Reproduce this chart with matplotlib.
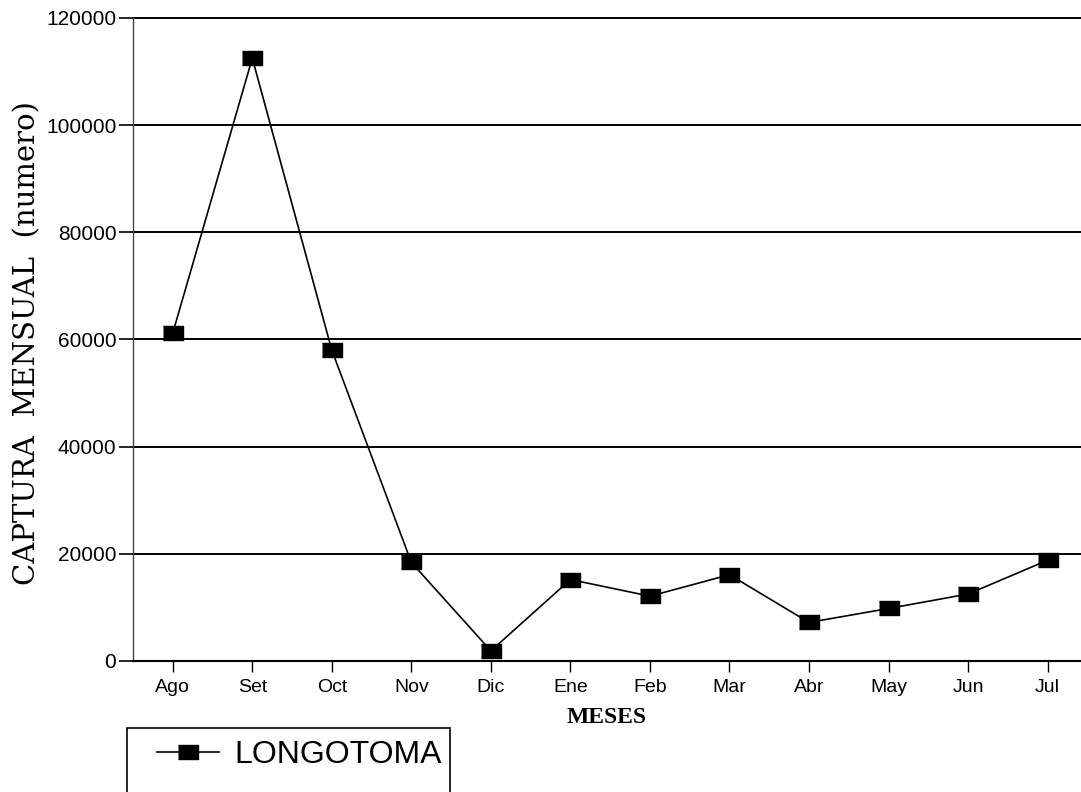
import numpy as np
import matplotlib.pyplot as plt
from matplotlib.patches import Rectangle

# monthly catch
meses = ['Ago', 'Set', 'Oct', 'Nov', 'Dic', 'Ene', 'Feb', 'Mar', 'Abr', 'May', 'Jun', 'Jul']
captura = [61200, 112500, 58000, 18400, 1900, 15200, 12100, 16100, 7200, 9800, 12500, 18800]
yticks = [0, 20000, 40000, 60000, 80000, 100000, 120000]

fig = plt.figure(figsize=(10.81, 7.92), dpi=100)
ax = fig.add_axes([133 / 1081, 1 - 661 / 792, 1 - 133 / 1081, (661 - 18) / 792])

x = np.arange(len(meses))
box = [(-1, -0.7), (1, -0.7), (1, 0.7), (-1, 0.7)]
ax.plot(x, captura, color='black', lw=1.2, marker=box, markersize=15,
        markerfacecolor='black', markeredgecolor='black', label='LONGOTOMA',
        zorder=3)

ax.set_xlim(-0.5, 11.42)
ax.set_ylim(0, 120000)
ax.set_yticks(yticks)
ax.set_yticklabels([str(v) for v in yticks], fontfamily='Liberation Sans', fontsize=15)
ax.set_xticks(x)
ax.set_xticklabels(meses, fontfamily='Liberation Sans', fontsize=14)
ax.tick_params(axis='y', length=10, width=1.2, pad=2)
ax.tick_params(axis='x', length=8, width=1.0, pad=5)

for v in yticks[1:]:
    ax.axhline(v, color='black', lw=1.4, zorder=1, clip_on=False)

for s in ['top', 'right']:
    ax.spines[s].set_visible(False)
ax.spines['bottom'].set_linewidth(1.5)
ax.spines['left'].set_linewidth(1.0)
ax.spines['left'].set_color('#444444')

ax.set_ylabel('CAPTURA  MENSUAL  (numero)', fontfamily='DejaVu Serif', fontsize=21)
ax.yaxis.set_label_coords(-0.097, 0.495)
ax.set_xlabel('MESES', fontfamily='Liberation Serif', fontweight='bold',
              fontsize=17, labelpad=8)

# legend box runs off the bottom of the page
fig.patches.append(Rectangle((127 / 1081, -0.05), (450 - 127) / 1081,
                             (792 - 728) / 792 + 0.05, transform=fig.transFigure,
                             fill=False, edgecolor='black', lw=1.2))
leg = ax.legend(loc='center left', bbox_to_anchor=(128 / 1081, 1 - 755 / 792),
                bbox_transform=fig.transFigure, frameon=False,
                prop={'family': 'Liberation Sans', 'size': 23},
                handlelength=1.95, handletextpad=0.47, markerscale=0.95)

fig.savefig('out.png', dpi=100)
